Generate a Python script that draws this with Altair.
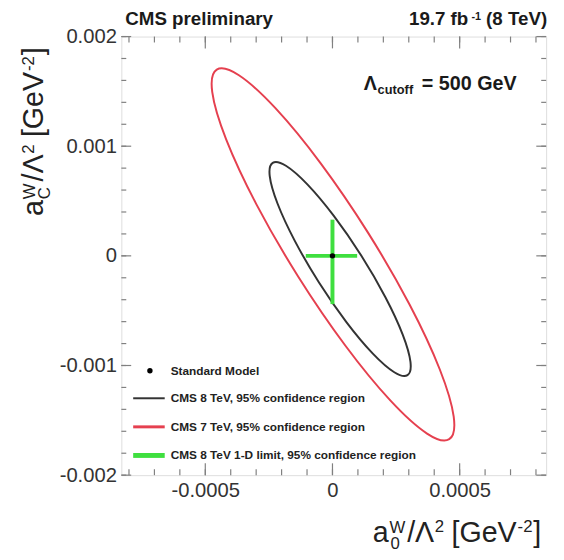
import altair as alt
import pandas as pd

FONT = "Liberation Sans"

# ---- data ----
x_domain = [-0.00083, 0.00084]
y_domain = [-0.002, 0.002]
x_major = [-0.0005, 0.0, 0.0005]
x_minor = [-0.0008, -0.0007, -0.0006, -0.0005, -0.0004, -0.0003, -0.0002, -0.0001, 0.0,
           0.0001, 0.0002, 0.0003, 0.0004, 0.0005, 0.0006, 0.0007, 0.0008]
y_major = [-0.002, -0.001, 0.0, 0.001, 0.002]
y_minor = [-0.002, -0.0018, -0.0016, -0.0014, -0.0012, -0.001, -0.0008, -0.0006, -0.0004, -0.0002, 0.0,
           0.0002, 0.0004, 0.0006, 0.0008, 0.001, 0.0012, 0.0014, 0.0016, 0.0018, 0.002]

# contour points, in units of 1e-6 GeV^-2
black_x_e6 = [295, 306.6, 276.1, 208.1, 113, 5.3, -98.7, -183.0, -235, -246.6, -216.1, -148.1, -53, 54.7, 158.7, 243]
black_y_e6 = [-1088, -967.2, -717.5, -376.8, 3, 364.0, 651.5, 821.4, 848, 727.2, 477.5, 136.8, -243, -604, -891.5, -1061.4]
red_x_e6 = [459, 476.6, 422.0, 303.5, 139, -46.3, -224.2, -367.8, -455, -472.6, -418, -299.5, -135, 50.3, 228.2, 371.8]
red_y_e6 = [-1672, -1466.9, -1036.4, -446.1, 214, 843.5, 1346.6, 1646.7, 1698, 1492.9, 1062.4, 472.1, -188, -817.5, -1320.6, -1620.7]

cross_x = [-0.000105, 0.000097]
cross_y = [-0.00044, 0.00033]
sm_point = [0.0, 0.0]

legend_labels = ["Standard Model",
                 "CMS 8 TeV, 95% confidence region",
                 "CMS 7 TeV, 95% confidence region",
                 "CMS 8 TeV 1-D limit, 95% confidence region"]

BLACK = "#333333"
RED = "#e5404f"
GREEN = "#3fdf3f"
TICK = "#808080"

W, H = 431, 445

# ---- tables ----
rows = []
for name, xs_, ys_ in [("8TeV", black_x_e6, black_y_e6), ("7TeV", red_x_e6, red_y_e6)]:
    for i, (a, b) in enumerate(zip(xs_, ys_)):
        rows.append({"x": a * 1e-6, "y": b * 1e-6, "i": i, "name": name})
df_ell = pd.DataFrame(rows)

xs = alt.Scale(domain=x_domain, nice=False, zero=False)
ys = alt.Scale(domain=y_domain, nice=False, zero=False)

lab_expr = "datum.value < 0 ? '-' + format(-datum.value, '.4~f') : format(datum.value, '.4~f')"
xax = alt.Axis(values=x_major, labelExpr=lab_expr, ticks=False, domain=False, grid=False,
               labelFontSize=20.5, labelFont=FONT, labelColor="#333", labelPadding=6,
               title=None, labelFlush=False)
yax = alt.Axis(values=y_major, labelExpr=lab_expr, ticks=False, domain=False, grid=False,
               labelFontSize=20.5, labelFont=FONT, labelColor="#333", labelPadding=5,
               title=None, labelFlush=False)

X = lambda f: alt.X(f, scale=xs, axis=xax)
Y = lambda f: alt.Y(f, scale=ys, axis=yax)

ellipses = alt.Chart(df_ell).mark_line(interpolate="cardinal-closed", strokeWidth=2).encode(
    x=X("x:Q"), y=Y("y:Q"), order="i:Q", detail="name:N",
    color=alt.Color("name:N", scale=alt.Scale(domain=["8TeV", "7TeV"], range=[BLACK, RED]), legend=None),
)

cross_h = alt.Chart(pd.DataFrame({"x": [cross_x[0]], "x2": [cross_x[1]], "y": [0.0]})).mark_rule(
    color=GREEN, strokeWidth=4).encode(x=X("x:Q"), x2="x2:Q", y=Y("y:Q"))
cross_v = alt.Chart(pd.DataFrame({"y": [cross_y[0]], "y2": [cross_y[1]], "x": [0.0]})).mark_rule(
    color=GREEN, strokeWidth=4).encode(y=Y("y:Q"), y2="y2:Q", x=X("x:Q"))
sm = alt.Chart(pd.DataFrame({"x": [sm_point[0]], "y": [sm_point[1]]})).mark_circle(
    size=30, color="black", opacity=1).encode(x=X("x:Q"), y=Y("y:Q"))

# ---- inward ticks on all four sides ----
dxmin = pd.DataFrame({"v": x_minor})
dxmaj = pd.DataFrame({"v": x_major})
dymin = pd.DataFrame({"v": y_minor})
dymaj = pd.DataFrame({"v": y_major})
tick_layers = []
for d, L in [(dxmin, 6), (dxmaj, 12)]:
    tick_layers.append(alt.Chart(d).mark_rule(color=TICK, strokeWidth=1.2).encode(
        x=X("v:Q"), y=alt.value(H), y2=alt.value(H - L)))
    tick_layers.append(alt.Chart(d).mark_rule(color=TICK, strokeWidth=1.2).encode(
        x=X("v:Q"), y=alt.value(0), y2=alt.value(L)))
for d, L in [(dymin, 5), (dymaj, 10)]:
    tick_layers.append(alt.Chart(d).mark_rule(color=TICK, strokeWidth=1.2).encode(
        y=Y("v:Q"), x=alt.value(0), x2=alt.value(L)))
    tick_layers.append(alt.Chart(d).mark_rule(color=TICK, strokeWidth=1.2).encode(
        y=Y("v:Q"), x=alt.value(W), x2=alt.value(W - L)))


def txt(s, x, y, size, bold=False, align="left", angle=0, baseline="alphabetic", color="#1a1a1a"):
    return alt.Chart(pd.DataFrame({"t": [s]})).mark_text(
        align=align, baseline=baseline, fontSize=size, font=FONT,
        fontWeight="bold" if bold else "normal", angle=angle, color=color
    ).encode(x=alt.value(x), y=alt.value(y), text="t:N")


texts = []
# header
texts.append(txt("CMS preliminary", 4, -12, 19, bold=True))
texts.append(txt("(8 TeV)", 432, -12, 19, bold=True, align="right"))
texts.append(txt("-1", 365, -17, 11, bold=True, align="right"))
texts.append(txt("19.7 fb", 352, -12, 19, bold=True, align="right"))
# cutoff annotation
texts.append(txt("Λ", 246, 54, 20, bold=True))
texts.append(txt("cutoff", 260, 58, 13, bold=True))
texts.append(txt("= 500 GeV", 401, 54, 20, bold=True, align="right"))

# axis titles (composed pieces: text, size, offset along, raise)
pieces_x = [("a", 29, 0, 0), ("W", 17, 17, 9), ("0", 17, 18, -7), ("/Λ", 29, 35, 0),
            ("2", 17, 63, 10), ("[GeV", 29, 80, 0), ("-2", 17, 147, 10), ("]", 29, 163, 0)]
x0, bx = 255, 513
for s, sz, d, r in pieces_x:
    texts.append(txt(s, x0 + d, bx - r, sz, color="#222"))
pieces_y = [("a", 29, 0, 0), ("W", 17, 17, 9), ("C", 17, 17, -7), ("/Λ", 29, 35, 0),
            ("2", 17, 63, 10), ("[GeV", 29, 80, 0), ("-2", 17, 147, 10), ("]", 29, 163, 0)]
y0, by = 182, -79
for s, sz, d, r in pieces_y:
    texts.append(txt(s, by - r, y0 - d, sz, angle=270, color="#222"))

# legend
leg_y = [339, 367, 396, 425]
leg = []
leg.append(alt.Chart(pd.DataFrame({"t": [0]})).mark_circle(size=30, color="black", opacity=1).encode(
    x=alt.value(29), y=alt.value(leg_y[0])))
for yy, col, sw in [(leg_y[1], BLACK, 2), (leg_y[2], RED, 3), (leg_y[3], GREEN, 5)]:
    leg.append(alt.Chart(pd.DataFrame({"t": [0]})).mark_rule(color=col, strokeWidth=sw).encode(
        x=alt.value(12), x2=alt.value(44), y=alt.value(yy)))
for lab, yy in zip(legend_labels, leg_y):
    leg.append(txt(lab, 50, yy, 12, bold=True, baseline="middle", color="#222"))

chart = alt.layer(ellipses, cross_h, cross_v, sm, *tick_layers, *texts, *leg).properties(
    width=W, height=H,
    autosize=alt.AutoSizeParams(type="none"),
    padding={"left": 115, "top": 25, "right": 10, "bottom": 74},
).configure_view(stroke="#888", strokeWidth=1.5).configure(background="white")

chart.save("out.html", embed_options={"renderer": "svg", "actions": False})
